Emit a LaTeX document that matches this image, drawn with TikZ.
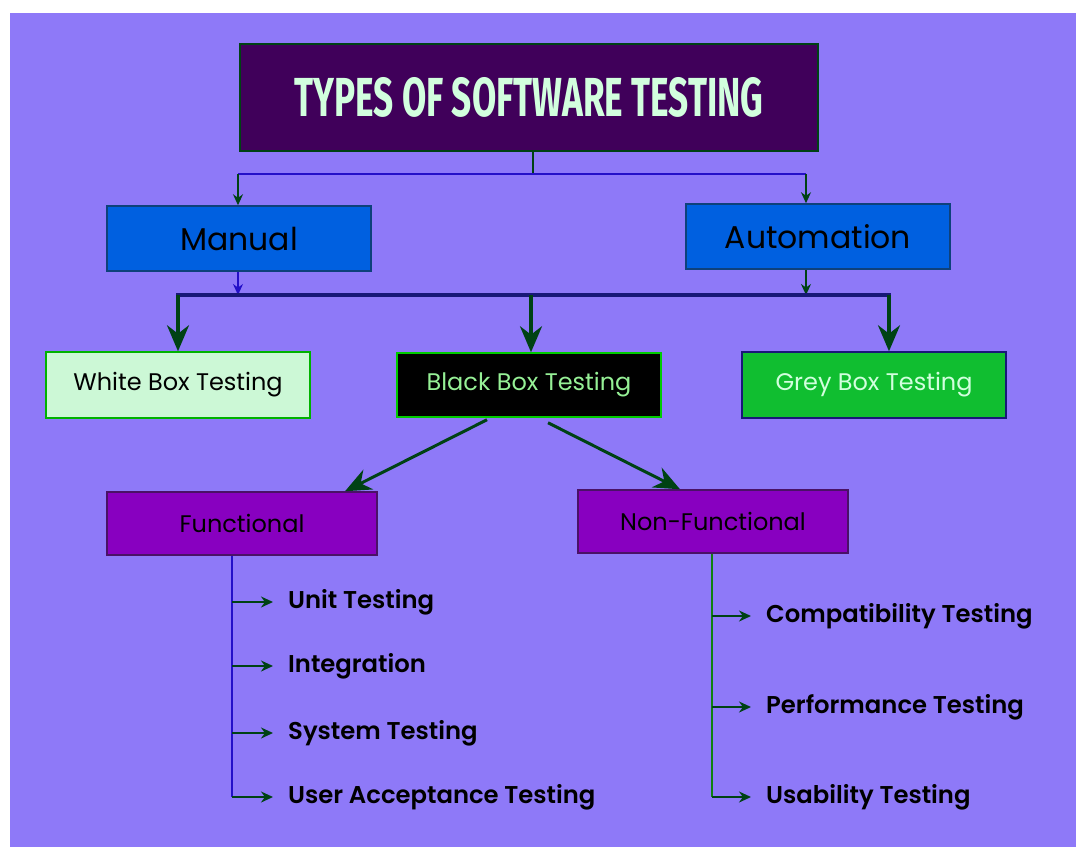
\documentclass[tikz,border=0pt]{standalone}
\usepackage{fontspec}
\setmainfont{Poppins}
\newfontfamily\titlefont[FakeStretch=0.64]{Fira Sans}
\newfontfamily\itemfont{Poppins SemiBold}
\usetikzlibrary{arrows.meta,positioning}
\definecolor{bgpurple}{RGB}{142,121,248}
\definecolor{titlefill}{RGB}{64,0,90}
\definecolor{mint}{RGB}{210,255,222}
\definecolor{bluefill}{RGB}{0,96,224}
\definecolor{whitefill}{RGB}{204,248,214}
\definecolor{greyfill}{RGB}{16,190,48}
\definecolor{funcfill}{RGB}{136,0,192}
\definecolor{darkgreen}{RGB}{0,66,20}
\definecolor{linkblue}{RGB}{36,16,200}
\definecolor{navy}{RGB}{24,24,120}
\definecolor{litegreen}{RGB}{150,240,150}
\definecolor{spinegreen}{RGB}{16,128,16}

\begin{document}
\begin{tikzpicture}[x=1pt,y=-1pt,
  box/.style={draw=#1, line width=1.5pt, inner sep=0pt, minimum width=264pt, minimum height=65pt},
  bigtext/.style={font=\fontsize{31.5}{38}\selectfont},
  midtext/.style={font=\fontsize{24}{29}\selectfont},
  item/.style={anchor=west, inner sep=0pt, text height=17pt, text depth=5pt, font=\itemfont\fontsize{24.3}{29}\selectfont},
  smallarrow/.style={draw=darkgreen, line width=1.5pt, -{Stealth[length=11pt,width=10pt]}},
  bigarrow/.style={draw=darkgreen, line width=3.5pt, -{Stealth[length=26pt,width=22pt]}},
  itemarrow/.style={draw=darkgreen, line width=1.8pt, -{Stealth[length=12pt,width=11pt]}}]
\useasboundingbox (0,0) rectangle (1076,847);
\fill [bgpurple] (10,13) rectangle (1076,847);

\node [box=darkgreen, fill=titlefill, minimum width=578pt, minimum height=107pt,
  text=mint, font=\titlefont\bfseries\fontsize{55}{60}\selectfont] (title) at (529,97.5) {TYPES OF SOFTWARE TESTING};
\node [box=navy!60!teal, fill=bluefill, bigtext] (manual) at (239,238.5) {Manual};
\node [box=navy!60!teal, fill=bluefill, bigtext] (auto) at (818,236.5) {Automation};
\node [box=green!70!black, fill=whitefill, midtext, minimum height=66pt] (white) at (178,385) {White Box Testing};
\node [box=green!80!black, fill=black, text=litegreen, midtext, minimum height=64pt] (black) at (529,385) {Black Box Testing};
\node [box=navy, fill=greyfill, text=mint, midtext, minimum height=66pt] (grey) at (874,385) {Grey Box Testing};
\node [box=navy!70!purple, fill=funcfill, midtext, minimum width=270pt, minimum height=63pt] (func) at (242,523.5) {Functional};
\node [box=navy!70!purple, fill=funcfill, midtext, minimum width=270pt, minimum height=63pt] (nonfunc) at (713,521.5) {Non-Functional};

\node [item] (unit) at (288,602) {Unit Testing};
\node [item] (integ) at (288,666) {Integration};
\node [item] (sys) at (288,733) {System Testing};
\node [item] (uat) at (288,797) {User Acceptance Testing};
\node [item] (compat) at (766,616) {Compatibility Testing};
\node [item] (perf) at (766,707) {Performance Testing};
\node [item] (usab) at (766,797) {Usability Testing};

\coordinate (split) at ([xshift=4pt,yshift=-22pt]title.south);
\coordinate (mtop) at ([xshift=-1pt]manual.north);
\coordinate (atop) at ([xshift=-12pt]auto.north);
\draw [darkgreen, line width=2pt] ([xshift=4pt]title.south) -- (split);
\draw [linkblue, line width=2.5pt] (mtop |- split) -- (atop |- split);
\draw [smallarrow] (mtop |- split) -- (mtop);
\draw [smallarrow] (atop |- split) -- (atop);

\coordinate (bar) at (0,295);
\coordinate (wtop) at (white.north);
\coordinate (btop) at ([xshift=2pt]black.north);
\coordinate (gtop) at ([xshift=15pt]grey.north);
\draw [smallarrow, draw=linkblue] (mtop |- manual.south) -- (mtop |- bar);
\draw [smallarrow] (atop |- auto.south) -- (atop |- bar);
\draw [navy, line width=4pt] ([xshift=-2pt]wtop |- bar) -- ([xshift=2pt]gtop |- bar);
\draw [bigarrow] (wtop |- bar) -- (wtop);
\draw [bigarrow] (btop |- bar) -- (btop);
\draw [bigarrow] (gtop |- bar) -- (gtop);

\draw [bigarrow, line width=3pt] ([xshift=-42pt,yshift=-2pt]black.south) -- ([xshift=103pt]func.north);
\draw [bigarrow, line width=3pt] ([xshift=19pt,yshift=-5pt]black.south) -- ([xshift=-33pt]nonfunc.north);

\coordinate (fspine) at ([xshift=-10pt]func.south);
\coordinate (nspine) at ([xshift=-1pt]nonfunc.south);
\draw [linkblue, line width=2.5pt] (fspine) -- (fspine |- uat.west);
\draw [spinegreen, line width=2pt] (nspine) -- (nspine |- usab.west);
\foreach \n in {unit,integ,sys,uat}
  \draw [itemarrow] (fspine |- \n.west) -- ([xshift=-15pt]\n.west);
\foreach \n in {compat,perf,usab}
  \draw [itemarrow] (nspine |- \n.west) -- ([xshift=-15pt]\n.west);
\end{tikzpicture}
\end{document}
